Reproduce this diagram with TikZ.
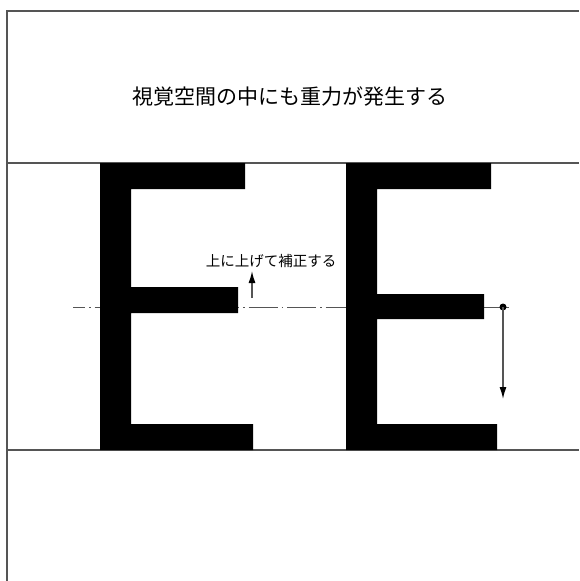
\documentclass[tikz,border=0pt]{standalone}
\usepackage{fontspec}
\newfontfamily\jpfont{Noto Sans CJK JP}
\usetikzlibrary{arrows.meta}
\definecolor{linegray}{HTML}{555555}
\tikzset{
  frameline/.style={draw=linegray, line width=1.4pt},
  letterfill/.style={fill=black},
  axisline/.style={draw=linegray, line width=1pt, dash pattern=on 29pt off 4pt on 1.5pt off 4pt, dash phase=17pt},
  moveArrow/.style={draw=linegray, line width=1.4pt, -{Latex[length=12pt,width=7pt,color=black]}},
  titletext/.style={font=\jpfont\fontsize{21pt}{25pt}\selectfont, text=black, inner sep=0pt},
  labeltext/.style={font=\jpfont\fontsize{14.5pt}{17pt}\selectfont, text=black, inner sep=0pt}
}
\begin{document}
\begin{tikzpicture}[x=1pt,y=-1pt]
\useasboundingbox (0,0) rectangle (579,581);
% frame
\draw[frameline] (7,581) -- (7,11) -- (579,11);
\draw[frameline] (7,163) -- (579,163);
\draw[frameline] (7,450) -- (579,450);
% title
\node[titletext] (title) at (290,97) {視覚空間の中にも重力が発生する};
% center axis
\coordinate (axL) at (73,307);
\coordinate (axR) at (511,307);
\draw[axisline] (axL) -- (axR);
% left E
\fill[letterfill] (100,163) -- (245,163) -- (245,189) -- (131,189) -- (131,287) -- (238,287) -- (238,313) -- (131,313) -- (131,424) -- (253,424) -- (253,450) -- (100,450) -- cycle;
% right E
\fill[letterfill] (346,163) -- (491,163) -- (491,189) -- (377,189) -- (377,294) -- (484,294) -- (484,319) -- (377,319) -- (377,424) -- (497,424) -- (497,450) -- (346,450) -- cycle;
% left arrow and label
\coordinate (upS) at (252,298);
\coordinate (upE) at (252,271);
\draw[moveArrow] (upS) -- (upE);
\node[labeltext] (lab) at (271,261) {上に上げて補正する};
% right arrow
\coordinate (dnS) at (503,307);
\coordinate (dnE) at (503,399);
\fill[black] (dnS) circle (3.5pt);
\draw[moveArrow] (dnS) -- (dnE);
\end{tikzpicture}
\end{document}
